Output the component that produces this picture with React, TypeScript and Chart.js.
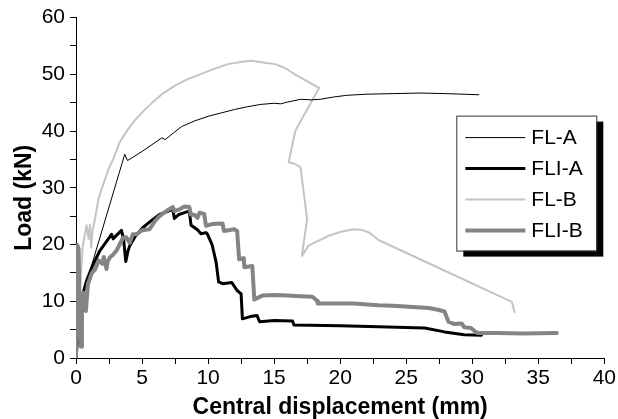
import React, { useEffect, useRef } from 'react';
import { Chart, registerables } from 'chart.js';

Chart.register(...registerables);

const SERIES_LABELS = ['FL-A', 'FLI-A', 'FL-B', 'FLI-B'];
const SERIES_COLORS = ['#000000', '#000000', '#c4c4c4', '#848484'];
const SERIES_WIDTHS = [1, 3, 2, 4];

const X_TITLE = 'Central displacement (mm)';
const Y_TITLE = 'Load (kN)';
const X_MIN = 0, X_MAX = 40, X_STEP = 2.5, X_LABEL_STEP = 5;
const Y_MIN = 0, Y_MAX = 60, Y_STEP = 5, Y_LABEL_STEP = 10;

const FL_A_X = [0, 0.2, 0.45, 0.68, 3.69, 3.9, 5, 6.5, 6.75, 8, 9, 10, 11, 12, 13, 14, 15, 15.5, 16, 17, 17.8, 18.5, 19.5, 20.5, 22, 24, 26, 28, 30.5];
const FL_A_Y = [0, 5, 10, 12.4, 35.9, 34.8, 36.4, 38.8, 38.5, 40.8, 41.8, 42.6, 43.2, 43.8, 44.3, 44.7, 44.9, 44.8, 45.1, 45.6, 45.5, 45.6, 46.0, 46.3, 46.5, 46.6, 46.7, 46.6, 46.4];

const FLI_A_X = [0, 0.3, 0.6, 0.8, 1.2, 1.8, 2.3, 2.69, 2.81, 3.1, 3.44, 3.6, 3.77, 3.94, 4.07, 4.5, 5.07, 5.7, 6.33, 7.0, 7.33, 7.45, 7.8, 8.33, 8.58, 8.71, 9.2, 9.46, 9.84, 9.96, 10.3, 10.6, 10.8, 11.1, 11.8, 12.2, 12.5, 12.6, 13.2, 13.7, 13.9, 15, 16.4, 16.5, 20, 22.9, 26.4, 27.9, 29.4, 30.7];
const FLI_A_Y = [0, 8, 12, 13.6, 16, 18.9, 20.5, 21.8, 21.0, 21.7, 22.5, 21.0, 17.0, 18.9, 19.8, 21.5, 23.0, 24.2, 25.3, 25.9, 26.2, 24.6, 25.3, 25.7, 25.9, 23.4, 22.6, 21.9, 22.1, 21.8, 20.0, 17.0, 13.4, 13.1, 13.3, 11.9, 11.3, 6.9, 7.3, 7.5, 6.4, 6.6, 6.5, 5.8, 5.7, 5.5, 5.3, 4.6, 4.1, 4.0];

const FL_B_X = [0, 0.3, 0.5, 0.65, 0.8, 0.95, 1.05, 1.15, 1.25, 1.4, 1.7, 2.06, 2.5, 2.81, 3.3, 3.82, 4.3, 4.82, 5.3, 5.82, 6.5, 7.5, 8.5, 9.3, 10.5, 11.5, 12.6, 13.3, 14.4, 15.1, 15.9, 16.5, 18.4, 16.6, 16.1, 16.6, 17.0, 17.5, 17.1, 17.6, 19.1, 20, 21.0, 21.6, 22.2, 22.9, 26.7, 33.0, 33.2];
const FL_B_Y = [0, 12, 19.5, 21.5, 23.4, 21, 23.5, 19.5, 22.5, 24, 28, 30.6, 33.5, 35.0, 38, 39.9, 41.5, 42.8, 44, 45.1, 46.5, 48, 49.2, 49.9, 51, 51.8, 52.2, 52.4, 52, 51.8, 51, 50.1, 47.6, 40.0, 34.5, 34.2, 33.6, 24.5, 18.0, 19.8, 21.5, 22.2, 22.7, 22.6, 22.1, 20.8, 16.7, 9.9, 8.1];

const FLI_B_X = [0, 0.1, 0.2, 0.3, 0.38, 0.45, 0.55, 0.65, 0.75, 0.9, 1.2, 1.45, 1.72, 2.0, 2.1, 2.31, 2.4, 2.56, 2.8, 3.06, 3.3, 3.56, 3.8, 4.07, 4.3, 4.57, 5.0, 5.57, 6.0, 6.33, 6.9, 7.33, 7.45, 7.83, 8.2, 8.58, 8.7, 9.0, 9.2, 9.35, 9.7, 9.84, 10.3, 11.1, 11.2, 11.97, 12.2, 12.35, 12.7, 12.75, 13.35, 13.5, 14.1, 15, 16, 17, 17.9, 18.25, 18.3, 21, 22.9, 24, 26.7, 27.4, 27.9, 28.2, 28.6, 29.2, 29.4, 29.9, 30.2, 30.4, 32, 33.8, 36.4];
const FLI_B_Y = [0, 19.9, 19.2, 4, 2, 9, 11.5, 8.5, 8.3, 13, 15, 15.6, 17.2, 16.6, 17.8, 15.7, 17, 17.7, 18.2, 18.9, 20.0, 21.2, 21.3, 20.3, 21.8, 21.8, 22.5, 22.7, 24.2, 25.0, 26.0, 26.6, 25.9, 26.2, 26.7, 26.6, 25.3, 25.2, 24.7, 25.6, 25.4, 23.3, 23.6, 23.7, 22.4, 22.7, 22.4, 17.4, 17.6, 16.0, 16.2, 10.3, 11.0, 11.1, 11.0, 10.9, 10.8, 10.1, 9.6, 9.6, 9.3, 9.2, 8.8, 8.5, 8.2, 6.4, 6.0, 6.1, 5.4, 5.3, 4.7, 4.4, 4.4, 4.3, 4.4];

const SERIES_X = [FL_A_X, FLI_A_X, FL_B_X, FLI_B_X];
const SERIES_Y = [FL_A_Y, FLI_A_Y, FL_B_Y, FLI_B_Y];
const DRAW_ORDER = [2, 1, 3, 0];

const FONT = '"Liberation Sans", Arial, sans-serif';

const overlayPlugin = {
  id: 'overlay',
  afterDraw(chart: any) {
    const ctx = chart.ctx;
    const area = chart.chartArea;
    ctx.save();
    // axis titles
    ctx.fillStyle = '#000';
    ctx.font = `bold 23px ${FONT}`;
    ctx.textAlign = 'center';
    ctx.textBaseline = 'alphabetic';
    ctx.fillText(X_TITLE, (area.left + area.right) / 2, area.bottom + 56);
    ctx.save();
    ctx.translate(31, (area.top + area.bottom) / 2 + 10);
    ctx.rotate(-Math.PI / 2);
    ctx.fillText(Y_TITLE, 0, 0);
    ctx.restore();

    // legend box
    const bx = area.right - 148;
    const by = area.top + 98;
    const bw = 140;
    const bh = 135;
    ctx.fillStyle = '#000';
    ctx.fillRect(bx + 7, by + 6, bw, bh);
    ctx.fillStyle = '#fff';
    ctx.fillRect(bx, by, bw, bh);
    ctx.strokeStyle = '#333';
    ctx.lineWidth = 1;
    ctx.strokeRect(bx + 0.5, by + 0.5, bw, bh);
    ctx.font = `21px ${FONT}`;
    ctx.textAlign = 'left';
    ctx.textBaseline = 'middle';
    chart.data.datasets.forEach((ds: any, i: number) => {
      const ry = by + 22 + i * 31;
      ctx.strokeStyle = ds.borderColor;
      ctx.lineWidth = ds.borderWidth;
      ctx.beginPath();
      ctx.moveTo(bx + 9, ry);
      ctx.lineTo(bx + 69, ry);
      ctx.stroke();
      ctx.fillStyle = '#000';
      ctx.fillText(ds.label, bx + 75, ry + 1);
    });
    ctx.restore();
  },
};

export default function App() {
  const ref = useRef<HTMLCanvasElement>(null);
  useEffect(() => {
    if (!ref.current) return;
    const datasets = SERIES_LABELS.map((label, i) => ({
      label,
      data: SERIES_X[i].map((x, j) => ({ x, y: SERIES_Y[i][j] })),
      borderColor: SERIES_COLORS[i],
      backgroundColor: SERIES_COLORS[i],
      borderWidth: SERIES_WIDTHS[i],
      pointRadius: 0,
      tension: 0,
      fill: false,
      showLine: true,
      borderJoinStyle: 'round' as const,
      borderCapStyle: 'round' as const,
      order: DRAW_ORDER[i],
    }));
    const chart = new Chart(ref.current, {
      type: 'scatter',
      data: { datasets },
      options: {
        animation: false,
        responsive: false,
        devicePixelRatio: 1,
        layout: { padding: { top: 15, right: 11, left: 0, bottom: 0 } },
        plugins: { legend: { display: false }, tooltip: { enabled: false } },
        scales: {
          x: {
            type: 'linear',
            min: X_MIN,
            max: X_MAX,
            afterFit: (s: any) => { s.height = 61; },
            ticks: {
              stepSize: X_STEP,
              autoSkip: false,
              maxRotation: 0,
              color: '#000',
              font: { size: 21, family: FONT },
              padding: 2,
              callback: (v: any) => (Number(v) % X_LABEL_STEP === 0 ? String(v) : ''),
            },
            grid: { drawOnChartArea: false, drawTicks: true, tickLength: 6, color: '#000', tickColor: '#000' },
            border: { display: true, color: '#000', width: 1 },
          },
          y: {
            type: 'linear',
            min: Y_MIN,
            max: Y_MAX,
            afterFit: (s: any) => { s.width = 76; },
            ticks: {
              stepSize: Y_STEP,
              autoSkip: false,
              color: '#000',
              font: { size: 21, family: FONT },
              padding: 5,
              callback: (v: any) => (Number(v) % Y_LABEL_STEP === 0 ? String(v) : ''),
            },
            grid: { drawOnChartArea: false, drawTicks: true, tickLength: 6, color: '#000', tickColor: '#000' },
            border: { display: true, color: '#000', width: 1 },
          },
        },
      },
      plugins: [overlayPlugin],
    });
    return () => chart.destroy();
  }, []);
  return (
    <div style={{ position: 'absolute', left: 0, top: 0, width: 618, height: 419, background: '#fff' }}>
      <canvas ref={ref} width={618} height={419} />
    </div>
  );
}
